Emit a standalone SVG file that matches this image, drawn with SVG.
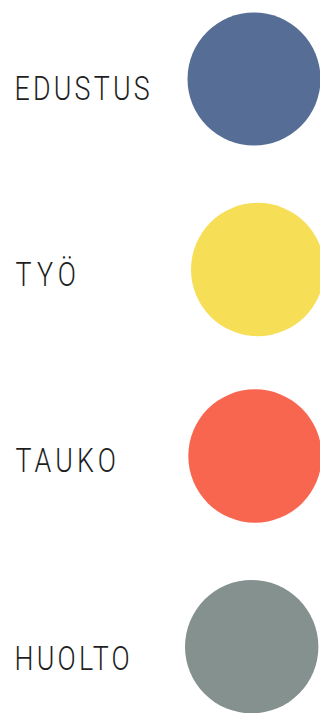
<svg xmlns="http://www.w3.org/2000/svg" width="320" height="713" viewBox="0 0 320 713">
<style>
.lbl{font-family:Roboto,"DejaVu Sans",sans-serif;font-weight:300;font-size:33.5px;fill:#1e1e1e;}
</style>
<rect width="320" height="713" fill="#fff"/>
<g id="edustus">
<circle cx="254" cy="79" r="66.5" fill="#566d96"/>
<text class="lbl" transform="translate(14.5,99.5) scale(0.8,1)" textLength="169" lengthAdjust="spacing">EDUSTUS</text>
</g>
<g id="tyo">
<circle cx="257.7" cy="269.5" r="66.7" fill="#f7de57"/>
<text class="lbl" transform="translate(15.5,285.5) scale(0.8,1)" textLength="75.5" lengthAdjust="spacing">TYÖ</text>
</g>
<g id="tauko">
<circle cx="255" cy="456" r="66.7" fill="#f86650"/>
<text class="lbl" transform="translate(15.5,472) scale(0.8,1)" textLength="125.5" lengthAdjust="spacing">TAUKO</text>
</g>
<g id="huolto">
<circle cx="251.7" cy="646.7" r="66.7" fill="#85918f"/>
<text class="lbl" transform="translate(14.5,670) scale(0.8,1)" textLength="144" lengthAdjust="spacing">HUOLTO</text>
</g>
<g id="connectors"/>
</svg>
